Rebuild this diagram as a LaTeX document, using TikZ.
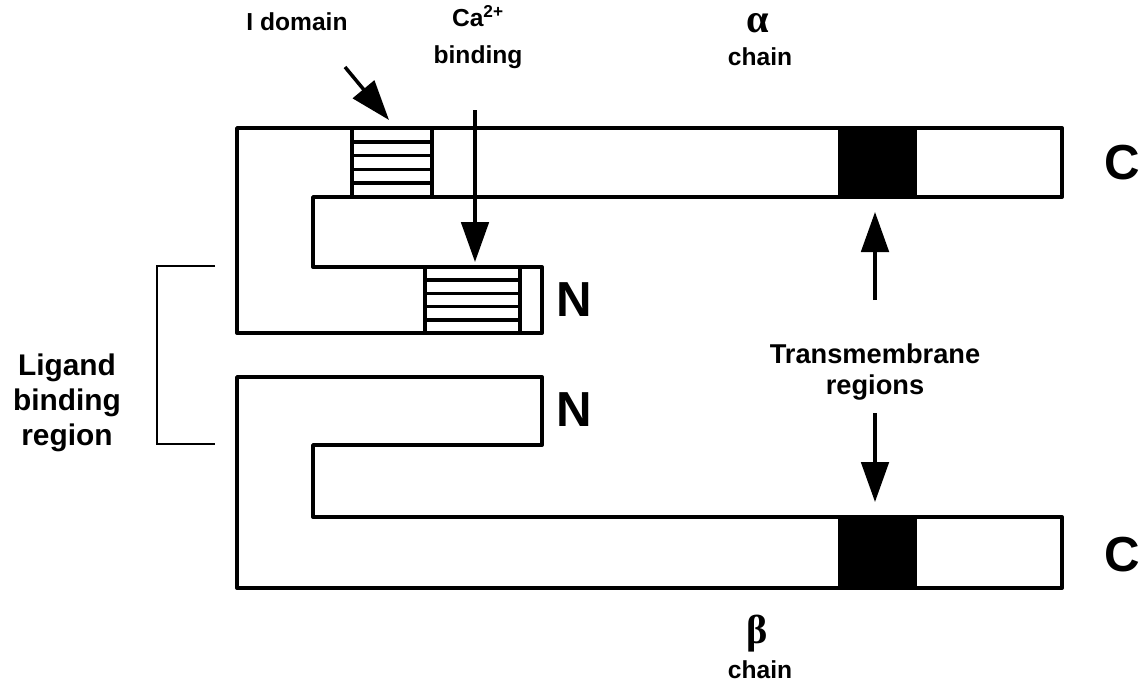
\documentclass[tikz,border=0pt]{standalone}
\usepackage{fontspec}
\setmainfont{Liberation Sans}
\newfontfamily\greekserif{Liberation Serif}
\usetikzlibrary{arrows.meta}

\begin{document}
\begin{tikzpicture}[x=0.02cm, y=-0.02cm,
    chain/.style={draw, line width=2.2pt, line join=round},
    hatch/.style={line width=2pt},
    tmfill/.style={fill=black},
    lbl/.style={font=\fontsize{14}{17}\selectfont\bfseries, align=center, inner sep=0pt},
    greek/.style={font=\fontsize{23}{25}\selectfont\greekserif\bfseries, inner sep=0pt},
    term/.style={font=\fontsize{28}{30}\selectfont\bfseries, inner sep=0pt},
    arrow/.style={-{Triangle[length=0.8cm,width=0.55cm]}, line width=2pt},
    bracket/.style={line width=1.5pt}
]
\useasboundingbox (0,0) rectangle (1148,697);

% --- Transmembrane regions (filled) ---
\fill[tmfill] (838,128) rectangle (917,197);
\fill[tmfill] (838,517) rectangle (917,588);

% --- I domain stripes ---
\draw[hatch] (352,128) -- (352,197);
\draw[hatch] (432,128) -- (432,197);
\foreach \k in {1,...,4}
    \draw[hatch] (352,128+13.8*\k) -- (432,128+13.8*\k);

% --- Ca2+ binding stripes ---
\draw[hatch] (425,267) -- (425,333);
\draw[hatch] (520,267) -- (520,333);
\foreach \k in {1,...,4}
    \draw[hatch] (425,267+13.2*\k) -- (520,267+13.2*\k);

% --- alpha chain ---
\draw[chain] (237,128) -- (1062,128) -- (1062,197) -- (313,197) -- (313,267)
    -- (542,267) -- (542,333) -- (237,333) -- cycle;

% --- beta chain ---
\draw[chain] (237,377) -- (542,377) -- (542,445) -- (313,445) -- (313,517)
    -- (1062,517) -- (1062,588) -- (237,588) -- cycle;

% --- Labels ---
\node[lbl] (idom) at (297,22) {I domain};
\node[lbl] (cabind) at (478,37) {Ca\textsuperscript{2+}\\[4pt]binding};
\node[greek, anchor=base] (alpha) at (758,32) {α};
\node[lbl] (achain) at (760,57) {chain};
\node[greek] (beta) at (757,634) {β};
\node[lbl] (bchain) at (760,670) {chain};
\node[lbl, font=\fontsize{17}{20}\selectfont\bfseries] (ligand) at (67,403) {Ligand\\binding\\region};
\node[lbl, font=\fontsize{15.5}{17.5}\selectfont\bfseries] (tm) at (875,372) {Transmembrane\\regions};
\node[term] (ca) at (1122,163) {C};
\node[term] (cb) at (1122,555) {C};
\node[term] (na) at (574,300) {N};
\node[term] (nb) at (574,410) {N};

% --- Arrow ends ---
\coordinate (idomtail) at (345,67);
\coordinate (idomtip)  at (389,120);
\coordinate (catail)   at (475,110);
\coordinate (catip)    at (475,262);
\coordinate (tmuptail) at (875,300);
\coordinate (tmuptip)  at (875,212);
\coordinate (tmdntail) at (875,413);
\coordinate (tmdntip)  at (875,502);

% --- Arrows ---
\draw[arrow] (idomtail) -- (idomtip);
\draw[arrow] (catail) -- (catip);
\draw[arrow] (tmuptail) -- (tmuptip);
\draw[arrow] (tmdntail) -- (tmdntip);

% --- Ligand binding bracket ---
\draw[bracket] (215,266) -- (157,266) -- (157,444) -- (215,444);

\end{tikzpicture}
\end{document}
